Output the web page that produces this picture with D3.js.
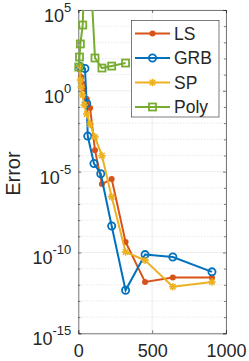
<!DOCTYPE html>
<html><head><meta charset="utf-8">
<script src="https://cdn.jsdelivr.net/npm/d3@7"></script>
<style>body{margin:0;background:#fff}svg{display:block}text{font-family:"Liberation Sans",Arial,sans-serif;fill:#262626}</style>
</head><body>
<script>
const xTicks = [0, 500, 1000];
const yTickExps = [-15, -10, -5, 0, 5];
const seriesNames = ["LS", "GRB", "SP", "Poly"];
const colors = ["#D95319", "#0072BD", "#EDB120", "#77AC30"];
const lsX = [10, 20, 28, 40, 57, 80, 113, 160, 226, 320, 452, 640, 905];
const lsE = [1.3, 0.85, 0.45, 0.15, -0.5, -1.07, -3.67, -5.77, -5.46, -9.35, -11.82, -11.55, -11.55];
const grbX = [14, 45, 57, 64, 106, 152, 226, 320, 452, 640, 905];
const grbE = [1.5, 1.38, -0.78, -2.8, -4.5, -5.13, -8.36, -12.34, -10.13, -10.28, -11.2];
const spX = [10, 14, 20, 28, 40, 57, 80, 113, 160, 226, 320, 452, 640, 905];
const spE = [1.53, 0.67, 0.23, -0.26, -0.88, -1.44, -2.06, -2.86, -4.01, -6.56, -9.97, -10.48, -12.12, -11.82];
const polyX = [3, 8, 14, 30, 57, 113, 160, 226, 320];
const polyE = [1.47, 2.09, 2.9, 4.07, 11.8, 2.03, 1.41, 1.53, 1.72];

const W = 249, H = 361;
const L = 78.3, R = 226, T = 10, B = 333.3;
const svg = d3.select("body").append("svg").attr("width", W).attr("height", H);
const x = d3.scaleLinear().domain([0, 1000]).range([L, R]);
const y = d3.scaleLog().domain([1e-15, 1e5]).range([B, T]);

// grid
const minor = d3.range(-15, 6).filter(e => e % 5 !== 0).map(e => Math.pow(10, e));
svg.append("g").selectAll("line").data(minor).join("line")
  .attr("x1", L).attr("x2", R).attr("y1", d => y(d)).attr("y2", d => y(d))
  .attr("stroke", "#c8c8c8").attr("stroke-width", 0.6).attr("stroke-dasharray", "1,2");
svg.append("g").selectAll("line").data(yTickExps.map(e => Math.pow(10, e))).join("line")
  .attr("x1", L).attr("x2", R).attr("y1", d => y(d)).attr("y2", d => y(d))
  .attr("stroke", "#dfdfdf").attr("stroke-width", 0.6);
svg.append("g").selectAll("line").data(xTicks).join("line")
  .attr("x1", d => x(d)).attr("x2", d => x(d)).attr("y1", T).attr("y2", B)
  .attr("stroke", "#dfdfdf").attr("stroke-width", 0.6);

// axes
const axC = "#262626";
const gB = svg.append("g").attr("transform", `translate(0,${B})`)
  .call(d3.axisBottom(x).tickValues(xTicks).tickSize(-3).tickFormat(d3.format("d")));
const gT = svg.append("g").attr("transform", `translate(0,${T})`)
  .call(d3.axisTop(x).tickValues(xTicks).tickSize(-3).tickFormat(""));
const gL = svg.append("g").attr("transform", `translate(${L},0)`)
  .call(d3.axisLeft(y).tickValues(yTickExps.map(e => Math.pow(10, e))).tickSize(-3).tickFormat(""));
const gR = svg.append("g").attr("transform", `translate(${R},0)`)
  .call(d3.axisRight(y).tickValues(yTickExps.map(e => Math.pow(10, e))).tickSize(-3).tickFormat(""));
const gLm = svg.append("g").attr("transform", `translate(${L},0)`)
  .call(d3.axisLeft(y).tickValues(minor).tickSize(-2).tickFormat(""));
const gRm = svg.append("g").attr("transform", `translate(${R},0)`)
  .call(d3.axisRight(y).tickValues(minor).tickSize(-2).tickFormat(""));
[gB, gT, gL, gR, gLm, gRm].forEach(g => {
  g.selectAll("path,line").attr("stroke", axC).attr("stroke-width", 0.6);
});
gLm.select("path").remove(); gRm.select("path").remove();
gB.selectAll("text").attr("font-size", 18).attr("font-family", "Liberation Sans, Arial").attr("fill", axC)
  .attr("y", 23.5).attr("dy", 0);

// y tick labels
const yl = svg.append("g");
yTickExps.forEach(e => {
  const t = yl.append("text").attr("x", L - 7).attr("y", y(Math.pow(10, e)) + 12)
    .attr("text-anchor", "end").attr("font-size", 18);
  t.append("tspan").text("10");
  t.append("tspan").attr("dy", -10).attr("font-size", 13).text(String(e));
});
svg.append("text").attr("transform", `translate(19.5,${(T + B) / 2 + 2}) rotate(-90)`)
  .attr("text-anchor", "middle").attr("font-size", 20).text("Error");

// data
const series = [
  {x: lsX, e: lsE, m: "dot"}, {x: grbX, e: grbE, m: "circle"},
  {x: spX, e: spE, m: "star"}, {x: polyX, e: polyE, m: "square"}
];
svg.append("clipPath").attr("id", "clip").append("rect").attr("x", L).attr("y", T).attr("width", R - L).attr("height", B - T);
const line = d3.line().x(d => x(d[0])).y(d => y(d[1]));
function marker(g, m, c) {
  if (m === "dot") g.append("circle").attr("r", 3).attr("fill", c);
  else if (m === "circle") g.append("circle").attr("r", 3.6).attr("fill", "none").attr("stroke", c).attr("stroke-width", 1.8);
  else if (m === "square") g.append("rect").attr("x", -3.5).attr("y", -3.5).attr("width", 7).attr("height", 7).attr("fill", "none").attr("stroke", c).attr("stroke-width", 1.8);
  else {
    const s = 3.8, d = s * 0.72;
    g.append("path").attr("d", `M${-s},0L${s},0M0,${-s}L0,${s}M${-d},${-d}L${d},${d}M${-d},${d}L${d},${-d}`)
      .attr("stroke", c).attr("stroke-width", 1.5).attr("fill", "none");
  }
}
series.forEach((s, i) => {
  const pts = s.x.map((v, k) => [v, Math.pow(10, s.e[k])]);
  svg.append("path").datum(pts).attr("d", line).attr("clip-path", "url(#clip)")
    .attr("fill", "none").attr("stroke", colors[i]).attr("stroke-width", 2);
  pts.filter(p => p[1] <= 1e5).forEach(p => {
    const g = svg.append("g").attr("transform", `translate(${x(p[0])},${y(p[1])})`);
    marker(g, s.m, colors[i]);
  });
});

// legend
const lg = svg.append("g");
lg.append("rect").attr("x", 131.5).attr("y", 20.5).attr("width", 87.5).attr("height", 96.5)
  .attr("fill", "#fff").attr("stroke", axC).attr("stroke-width", 0.6);
seriesNames.forEach((n, i) => {
  const yy = 33.5 + i * 24.5;
  lg.append("line").attr("x1", 135).attr("x2", 170).attr("y1", yy).attr("y2", yy)
    .attr("stroke", colors[i]).attr("stroke-width", 2);
  const g = lg.append("g").attr("transform", `translate(152.5,${yy})`);
  marker(g, series[i].m, colors[i]);
  lg.append("text").attr("x", 174).attr("y", yy + 6).attr("font-size", 17.5).text(n);
});
</script>
</body></html>
